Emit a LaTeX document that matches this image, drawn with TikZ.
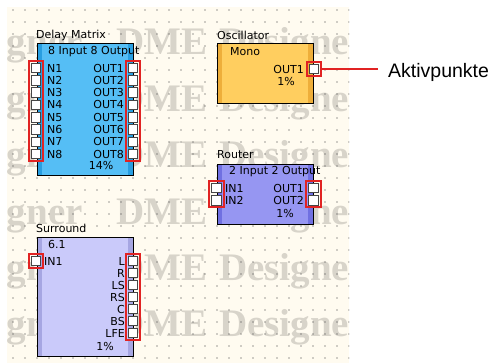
\documentclass[tikz,border=0pt]{standalone}
\usepackage{fontspec}
\setmainfont{DejaVu Sans}
\newfontfamily\wmfont{Liberation Serif}
\newfontfamily\calloutfont{Liberation Sans}
\usetikzlibrary{positioning,fit}
\definecolor{cream}{RGB}{255,251,240}
\definecolor{wmgray}{RGB}{216,212,202}
\definecolor{dmblue}{RGB}{85,190,245}
\definecolor{dmbluedark}{RGB}{40,158,225}
\definecolor{oscorange}{RGB}{255,206,95}
\definecolor{oscorangedark}{RGB}{238,174,58}
\definecolor{rtpurple}{RGB}{150,150,242}
\definecolor{rtpurpledark}{RGB}{112,112,225}
\definecolor{srlav}{RGB}{202,202,250}
\definecolor{srlavdark}{RGB}{166,166,226}
\definecolor{portred}{RGB}{225,35,35}

\begin{document}
\begin{tikzpicture}[x=1pt,y=-1pt,
    blocktitle/.style={font=\fontsize{11}{13}\selectfont,anchor=west,inner sep=0pt},
    lbl/.style={font=\fontsize{11}{13}\selectfont,inner sep=0pt},
    blockbox/.style={draw=black,line width=1pt,minimum width=96pt,inner sep=0pt},
    sides/.style={path picture={
        \fill[#1] (path picture bounding box.north west) rectangle ([xshift=5pt]path picture bounding box.south west);
        \fill[#1] ([xshift=-5pt]path picture bounding box.north east) rectangle (path picture bounding box.south east);}},
    port/.style={draw=gray!55!black,fill=white,line width=0.8pt,minimum size=9.5pt,inner sep=0pt},
    portframe/.style={draw=portred,line width=2pt,inner sep=2pt},
    wmark/.style={font=\wmfont\bfseries\fontsize{39}{39}\selectfont,text=wmgray,inner sep=0pt},
    gdot/.style={fill=black!80}
  ]
    \useasboundingbox (0,0) rectangle (499,363);
    \fill[white] (0,0) rectangle (499,363);
    \fill[cream] (7,7) rectangle (349,363);
    \begin{scope}
      \clip (7,7) rectangle (349,363);
      \foreach \y [count=\r] in {55,111.4,167.8,224.2,280.6,337} {
        \node[wmark,anchor=base east] (wmleft\r) at (83,\y) {Designer};
        \node[wmark,anchor=base west] (wmdme\r) at (116,\y) {DME};
        \node[wmark,anchor=base west] (wmright\r) at (219,\y) {Designer};
      }
      \foreach \x in {13,25,...,349}
        \foreach \y in {10,22,...,362}
          \fill[gdot] (\x,\y) circle (0.55pt);
    \end{scope}

    \node[blocktitle] (delaytitle) at (36,35) {Delay Matrix};
    \node[blockbox,fill=dmblue,sides=dmbluedark,minimum height=132pt] (delay) at (85,110) {};
    \node[lbl,anchor=west] (delayhead) at (48,52) {8 Input 8 Output};
    \node[lbl] (delayload) at (101,165) {14\%};
    \foreach \i in {1,...,8} {
      \node[lbl,anchor=west] (dminlbl\i) at (47,{68+12.3*(\i-1)}) {N\i};
      \node[lbl,anchor=east] (dmoutlbl\i) at (124,{68+12.3*(\i-1)}) {OUT\i};
      \node[port] (dmin\i) at (36,{68+12.3*(\i-1)}) {};
      \node[port] (dmout\i) at (133,{68+12.3*(\i-1)}) {};
    }
    \node[portframe,fit=(dmin1)(dmin8)] (dminframe) {};
    \node[portframe,fit=(dmout1)(dmout8)] (dmoutframe) {};

    \node[blocktitle] (osctitle) at (217,35) {Oscillator};
    \node[blockbox,fill=oscorange,sides=oscorangedark,minimum height=60pt] (osc) at (265,74) {};
    \node[lbl,anchor=west] (oschead) at (230,52) {Mono};
    \node[lbl,anchor=east] (oscoutlbl) at (304,69) {OUT1};
    \node[lbl] (oscload) at (286,81) {1\%};
    \node[port] (oscout) at (314,69) {};
    \node[portframe,fit=(oscout)] (oscframe) {};

    \node[blocktitle] (routertitle) at (217,155) {Router};
    \node[blockbox,fill=rtpurple,sides=rtpurpledark,minimum height=60pt] (router) at (265,195) {};
    \node[lbl,anchor=west] (routerhead) at (229,172) {2 Input 2 Output};
    \node[lbl] (routerload) at (285,213) {1\%};
    \foreach \i in {1,2} {
      \node[lbl,anchor=west] (rtinlbl\i) at (225,{188+12.3*(\i-1)}) {IN\i};
      \node[lbl,anchor=east] (rtoutlbl\i) at (304,{188+12.3*(\i-1)}) {OUT\i};
      \node[port] (rtin\i) at (216.5,{188+12.3*(\i-1)}) {};
      \node[port] (rtout\i) at (313.5,{188+12.3*(\i-1)}) {};
    }
    \node[portframe,fit=(rtin1)(rtin2)] (rtinframe) {};
    \node[portframe,fit=(rtout1)(rtout2)] (rtoutframe) {};

    \node[blocktitle] (surroundtitle) at (36,228) {Surround};
    \node[blockbox,fill=srlav,sides=srlavdark,minimum height=119pt] (surround) at (85,297.5) {};
    \node[lbl,anchor=west] (surroundhead) at (48,244) {6.1};
    \node[lbl] (surroundload) at (105,346) {1\%};
    \node[lbl,anchor=west] (srinlbl) at (44,261) {IN1};
    \node[port] (srin) at (36,261) {};
    \node[portframe,fit=(srin)] (srinframe) {};
    \foreach \s [count=\i] in {L,R,LS,RS,C,BS,LFE} {
      \node[lbl,anchor=east] (sroutlbl\i) at (125,{261+12*(\i-1)}) {\s};
      \node[port] (srout\i) at (133,{261+12*(\i-1)}) {};
    }
    \node[portframe,fit=(srout1)(srout7)] (sroutframe) {};

    \node[font=\calloutfont\fontsize{19.5}{22}\selectfont,anchor=base west,inner sep=0pt] (aktiv) at (388,78) {Aktivpunkte};
    \coordinate (aktivtip) at (378,69);
    \draw[portred,line width=2pt] (oscframe.east) -- (aktivtip);
  \end{tikzpicture}
\end{document}
